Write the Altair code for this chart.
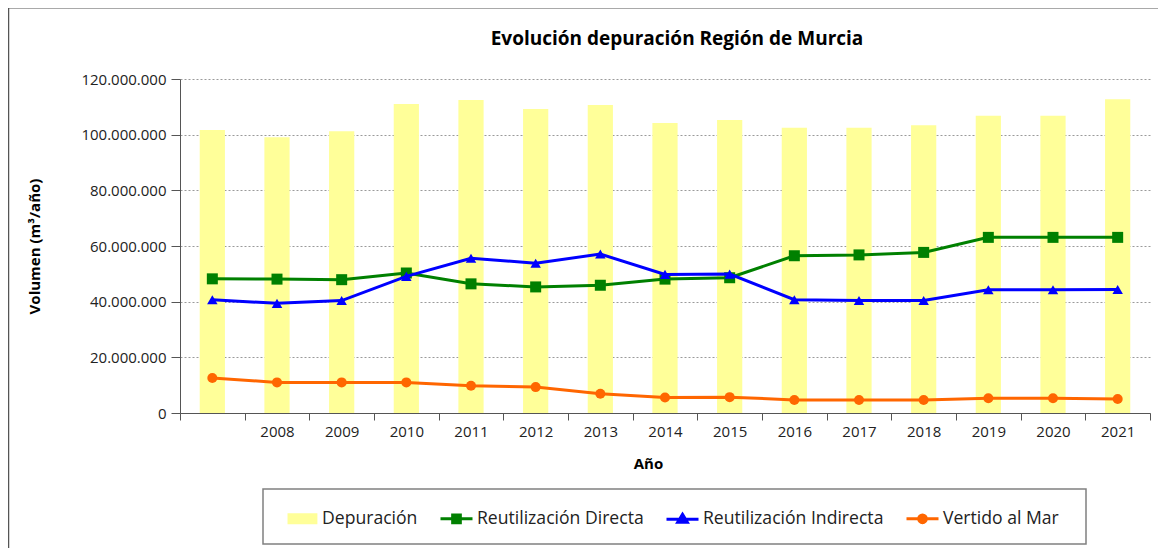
import altair as alt
import pandas as pd

# ---- data (values in millions of m3/year) ----
years = list(range(2007, 2022))
series = ["Depuración", "Reutilización Directa", "Reutilización Indirecta", "Vertido al Mar"]
depuracion = [101.7, 99.1, 101.2, 111.0, 112.5, 109.2, 110.7, 104.2, 105.3, 102.5, 102.5, 103.4, 106.8, 106.8, 112.7]
directa = [48.2, 48.1, 47.9, 50.3, 46.4, 45.3, 45.9, 48.1, 48.6, 56.5, 56.8, 57.7, 63.1, 63.1, 63.1]
indirecta = [40.7, 39.4, 40.4, 49.1, 55.6, 53.8, 57.1, 49.8, 49.9, 40.7, 40.4, 40.4, 44.3, 44.3, 44.4]
vertido = [12.6, 11.0, 11.0, 11.0, 9.8, 9.3, 6.9, 5.6, 5.7, 4.7, 4.7, 4.7, 5.3, 5.3, 5.0]
y_ticks = [0, 20000000, 40000000, 60000000, 80000000, 100000000, 120000000]
title_text = "Evolución depuración Región de Murcia"

colors = ["#FFFF99", "#008000", "#0000FF", "#FF6600"]
marker_shapes = ["square", "square", "triangle-up", "circle"]
legend_paths = [
    "M-0.78,-0.25L0.9,-0.25L0.9,0.25L-0.78,0.25Z",
    "M-1,0L1,0M-0.24,-0.24L0.24,-0.24L0.24,0.24L-0.24,0.24Z",
    "M-1,0L1,0M0,-0.3L0.3,0.2L-0.3,0.2Z",
    "M-1,0L1,0M-0.24,0A0.24,0.24 0 1,0 0.24,0A0.24,0.24 0 1,0 -0.24,0Z",
]

rows = []
for name, vals in zip(series, [depuracion, directa, indirecta, vertido]):
    for yr, v in zip(years, vals):
        rows.append({"anio": yr, "serie": name, "valor": v * 1_000_000})
df = pd.DataFrame(rows)

FONT = "Open Sans"
TXT = "#222222"
AXIS = "#555555"

x_enc = alt.X(
    "anio:O",
    scale=alt.Scale(paddingInner=0, paddingOuter=0),
    axis=alt.Axis(
        title="Año", titleFont=FONT, titleFontSize=15, titleFontWeight="bold", titleColor="#000",
        titleX=468, titleY=50, titleBaseline="middle",
        labelAngle=0, labelFont=FONT, labelFontSize=15, labelColor=TXT, labelPadding=4,
        labelExpr="datum.value == 2007 ? '' : datum.label",
        tickBand="extent", tickSize=7, tickColor=AXIS, domainColor=AXIS,
        grid=False, zindex=1,
    ),
)
y_enc = alt.Y(
    "valor:Q",
    scale=alt.Scale(domain=[0, 120000000], nice=False),
    axis=alt.Axis(
        title="Volumen (m³/año)", titleFont=FONT, titleFontSize=15, titleFontWeight="bold", titleColor="#000",
        titleX=-146, titleY=167, titleBaseline="middle",
        values=y_ticks,
        labelExpr="replace(replace(format(datum.value, ','), ',', '.'), ',', '.')",
        labelFont=FONT, labelFontSize=15, labelColor=TXT, labelPadding=5,
        tickSize=9, tickColor=AXIS, domainColor=AXIS,
        grid=True, gridColor="#9a9a9a", gridDash=[2, 2], gridWidth=1,
    ),
)

base = alt.Chart(df)

bars = base.transform_filter(alt.datum.serie == series[0]).mark_bar(
    color=colors[0], width=alt.RelativeBandSize(0.39)
).encode(x=x_enc, y=y_enc)

line_layers = []
for name, col, shp, sz in zip(series[1:], colors[1:], marker_shapes[1:], [121, 110, 100]):
    line_layers.append(
        base.transform_filter(alt.datum.serie == name).mark_line(
            color=col, strokeWidth=3,
            point=alt.OverlayMarkDef(shape=shp, size=sz, filled=True, color=col, opacity=1),
        ).encode(x=x_enc, y=y_enc)
    )

legend_layer = base.transform_filter("datum.valor < 0").mark_point(filled=True, opacity=1).encode(
    x=x_enc, y=y_enc,
    fill=alt.Fill("serie:N", scale=alt.Scale(domain=series, range=colors), sort=series,
                  legend=alt.Legend(
                      title=None, orient="none", legendX=104, legendY=422, direction="horizontal",
                      symbolSize=1024, symbolStrokeWidth=3, symbolOpacity=1,
                      labelFont=FONT, labelFontSize=17.6, labelColor=TXT, labelOffset=3,
                      labelLimit=400, columnPadding=16, padding=0,
                  )),
    stroke=alt.Stroke("serie:N", scale=alt.Scale(domain=series, range=colors), sort=series),
    shape=alt.Shape("serie:N", scale=alt.Scale(domain=series, range=legend_paths), sort=series),
)

deco = alt.Chart(alt.Data(values=[{"k": 1}]))
frame_left = deco.mark_rule(color="#555555", strokeWidth=1.5).encode(
    x=alt.value(-171.5), y=alt.value(-71), y2=alt.value(480))
frame_top = deco.mark_rule(color="#555555", strokeWidth=1).encode(
    x=alt.value(-172), x2=alt.value(990), y=alt.value(-71))
legend_box = deco.mark_rect(fillOpacity=0, stroke="#808080", strokeWidth=1.5).encode(
    x=alt.value(83), x2=alt.value(906), y=alt.value(410), y2=alt.value(465))
title_mark = deco.mark_text(
    text=title_text, font=FONT, fontSize=19, fontWeight="bold", color="#000",
    align="center", baseline="middle",
).encode(x=alt.value(497), y=alt.value(-40))

chart = alt.layer(
    bars, *line_layers, legend_layer, frame_left, frame_top, legend_box, title_mark
).properties(
    width=970, height=334,
    autosize=alt.AutoSizeParams(type="none"),
    padding={"left": 172, "top": 71, "right": 8, "bottom": 135},
    background="white",
).configure_view(stroke=None)

chart.save("out.html", embed_options={"renderer": "svg", "actions": False})
